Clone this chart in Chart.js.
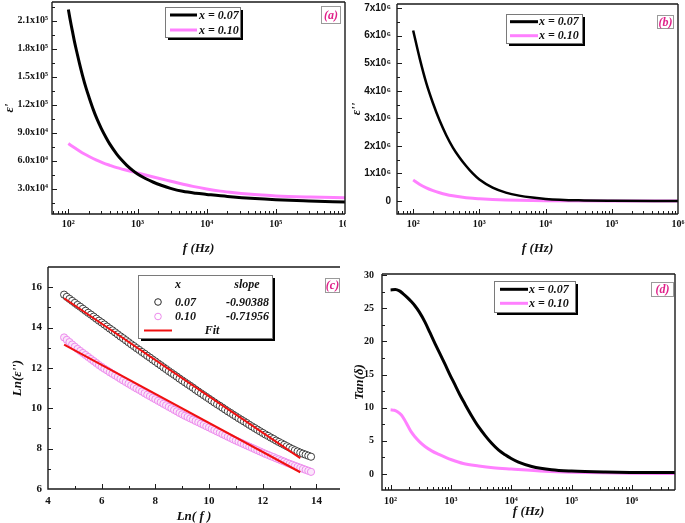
<!DOCTYPE html>
<html><head><meta charset="utf-8">
<script src="https://cdn.jsdelivr.net/npm/chart.js@4.4.0/dist/chart.umd.min.js"></script>
<style>
html,body{margin:0;padding:0;background:#fff;}
#wrap{position:relative;width:685px;height:523px;overflow:hidden;background:#fff;}
canvas{position:absolute;}
</style></head><body>
<div id="wrap">
<canvas id="ca" width="346" height="260" style="left:0;top:0"></canvas>
<canvas id="cb" width="340" height="260" style="left:345px;top:0"></canvas>
<canvas id="cc" width="345" height="263" style="left:0;top:260px"></canvas>
<canvas id="cd" width="340" height="263" style="left:345px;top:260px"></canvas>
</div>
<script>
// ---------- data ----------
const seriesLabels = ['x = 0.07', 'x = 0.10'];
const panelTags = ['(a)', '(b)', '(c)', '(d)'];

// (a) epsilon' vs f
const freqA07 = [100, 105, 110, 115, 123, 132, 145, 160, 180, 200, 230, 260, 300, 350, 400, 500, 600, 700, 850, 1000, 1300, 1700, 2200, 3000, 4500, 7000, 10000, 20000, 50000, 100000, 300000, 1000000];
const epsRealA07 = [222000, 213000, 205000, 198000, 187000, 177000, 164000, 151500, 138000, 127500, 114500, 104500, 94500, 85000, 77500, 67200, 60200, 55100, 49700, 45800, 41000, 37000, 33800, 30500, 27300, 25200, 24000, 21800, 19500, 18300, 17000, 15800];
const freqA10 = [100, 126, 158, 200, 251, 316, 398, 501, 631, 794, 1000, 1585, 2512, 3981, 6310, 10000, 15849, 25119, 39811, 63096, 100000, 316228, 1000000];
const epsRealA10 = [78400, 73300, 68600, 64600, 61000, 57800, 55100, 52600, 50600, 48700, 46900, 43100, 39500, 35900, 32600, 29800, 27500, 25800, 24400, 23300, 22400, 21200, 20400];

// (b) epsilon'' vs f
const freqB07 = [100, 126, 158, 200, 251, 316, 398, 501, 631, 794, 1000, 1585, 2512, 3981, 6310, 10000, 31623, 100000, 1000000];
const epsImagB07 = [6190000, 5160000, 4280000, 3540000, 2920000, 2390000, 1940000, 1580000, 1270000, 1000000, 780000, 487000, 307000, 196000, 125000, 78000, 25000, 8000, 1000];
const freqB10 = [100, 126, 158, 200, 251, 316, 398, 501, 631, 794, 1000, 1585, 2512, 3981, 10000, 100000, 1000000];
const epsImagB10 = [760000, 600000, 475000, 375000, 300000, 238000, 190000, 152000, 122000, 100000, 85000, 60000, 42000, 30000, 14000, 2500, 800];

// (c) Ln(epsilon'') vs Ln(f)
const lnF = [4.6,4.7,4.8,4.9,5.0,5.1,5.2,5.3,5.4,5.5,5.6,5.7,5.8,5.9,6.0,6.1,6.2,6.3,6.4,6.5,6.6,6.7,6.8,6.9,7.0,7.1,7.2,7.3,7.4,7.5,7.6,7.7,7.8,7.9,8.0,8.1,8.2,8.3,8.4,8.5,8.6,8.7,8.8,8.9,9.0,9.1,9.2,9.3,9.4,9.5,9.6,9.7,9.8,9.9,10.0,10.1,10.2,10.3,10.4,10.5,10.6,10.7,10.8,10.9,11.0,11.1,11.2,11.3,11.4,11.5,11.6,11.7,11.8,11.9,12.0,12.1,12.2,12.3,12.4,12.5,12.6,12.7,12.8,12.9,13.0,13.1,13.2,13.3,13.4,13.5,13.6,13.7,13.8];
const lnEps07 = [15.63,15.52,15.42,15.32,15.22,15.12,15.03,14.93,14.83,14.73,14.64,14.54,14.44,14.34,14.25,14.15,14.05,13.95,13.86,13.76,13.66,13.56,13.47,13.37,13.27,13.17,13.08,12.98,12.89,12.79,12.70,12.60,12.51,12.41,12.32,12.22,12.13,12.03,11.94,11.84,11.75,11.66,11.57,11.47,11.38,11.29,11.20,11.11,11.02,10.92,10.83,10.74,10.65,10.56,10.47,10.38,10.29,10.20,10.12,10.03,9.94,9.85,9.77,9.68,9.60,9.51,9.43,9.35,9.27,9.18,9.10,9.02,8.94,8.86,8.78,8.70,8.63,8.55,8.48,8.40,8.33,8.26,8.19,8.12,8.05,7.98,7.92,7.86,7.80,7.75,7.70,7.65,7.60];
const lnEps10 = [13.51,13.39,13.28,13.16,13.05,12.94,12.84,12.74,12.64,12.54,12.44,12.34,12.24,12.14,12.05,11.96,11.88,11.79,11.71,11.63,11.55,11.46,11.38,11.30,11.22,11.14,11.06,10.98,10.91,10.83,10.75,10.67,10.60,10.52,10.45,10.37,10.30,10.22,10.15,10.07,10.00,9.92,9.85,9.77,9.70,9.63,9.57,9.50,9.44,9.37,9.31,9.24,9.18,9.11,9.05,8.98,8.92,8.85,8.79,8.72,8.66,8.59,8.53,8.46,8.40,8.34,8.28,8.22,8.16,8.10,8.04,7.98,7.92,7.86,7.80,7.74,7.69,7.63,7.58,7.52,7.47,7.41,7.36,7.30,7.25,7.20,7.15,7.10,7.05,7.00,6.95,6.90,6.85];
const fitLnF = [4.6, 13.4];
const fitLnEps07 = [15.45, 7.53];
const fitLnEps10 = [13.15, 6.83];
const compLabels = ['0.07', '0.10'];
const slopeLabels = ['-0.90388', '-0.71956'];

// (d) tan(delta) vs f
const freqD07 = [100, 120, 140, 160, 190, 220, 251, 300, 372, 450, 550, 660, 794, 960, 1175, 1400, 1698, 2200, 2884, 3700, 4786, 6200, 7943, 10000, 13183, 21878, 46774, 100000, 363078, 1000000, 5200000];
const tanD07 = [27.75, 27.8, 27.6, 27.2, 26.6, 26.0, 25.4, 24.4, 22.9, 21.3, 19.6, 18.1, 16.6, 15.0, 13.4, 12.0, 10.6, 8.8, 7.1, 5.8, 4.6, 3.6, 2.9, 2.35, 1.8, 1.15, 0.65, 0.45, 0.3, 0.25, 0.22];
const freqD10 = [100, 115, 130, 151, 170, 195, 220, 251, 300, 372, 480, 617, 800, 1023, 1600, 2884, 5000, 10000, 36308, 100000, 1000000, 5200000];
const tanD10 = [9.68, 9.62, 9.4, 8.9, 8.2, 7.2, 6.35, 5.67, 4.9, 4.16, 3.5, 3.0, 2.55, 2.16, 1.6, 1.22, 0.95, 0.75, 0.42, 0.28, 0.12, 0.1];

// tick values and labels
const xTicksLog = [100, 1000, 10000, 100000, 1000000];
const xTickLabelsLog = ['10²', '10³', '10⁴', '10⁵', '10⁶'];
const yTicksA = [30000, 60000, 90000, 120000, 150000, 180000, 210000];
const yTickLabelsA = ['3.0x10⁴', '6.0x10⁴', '9.0x10⁴', '1.2x10⁵', '1.5x10⁵', '1.8x10⁵', '2.1x10⁵'];
const yTicksB = [0, 1000000, 2000000, 3000000, 4000000, 5000000, 6000000, 7000000];
const yTickLabelsB = ['0', '1x10⁶', '2x10⁶', '3x10⁶', '4x10⁶', '5x10⁶', '6x10⁶', '7x10⁶'];
const xTicksC = [4, 6, 8, 10, 12, 14];
const xTickLabelsC = ['4', '6', '8', '10', '12', '14'];
const yTicksC = [6, 8, 10, 12, 14, 16];
const yTickLabelsC = ['6', '8', '10', '12', '14', '16'];
const yTicksD = [0, 5, 10, 15, 20, 25, 30];
const yTickLabelsD = ['0', '5', '10', '15', '20', '25', '30'];

// ---------- styling / helpers ----------
const SERIF = "'Liberation Serif', 'Times New Roman', serif";
const SANS = "'Liberation Sans', Arial, 'DejaVu Sans', sans-serif";
const PINK = '#ff80ff';
const TAGC = '#e0218a';
const INK = '#111';

function pts(xs, ys) { return xs.map((x, i) => ({ x: x, y: ys[i] })); }

function axis(o) {
  return {
    type: o.type, min: o.min, max: o.max, bounds: 'data',
    grid: { display: false, drawTicks: false }, border: { display: false },
    ticks: {
      autoSkip: false, maxRotation: 0, minRotation: 0, padding: o.pad, color: INK,
      font: { family: o.family || SERIF, weight: 'bold', size: o.size || 10 },
      callback: function (v) {
        const i = o.ticks.findIndex(t => Math.abs(t - v) <= Math.abs(t) * 1e-9 + 1e-9);
        return i >= 0 ? o.labels[i] : '';
      }
    },
    title: { display: true, text: o.title, color: INK,
      font: { family: SERIF, style: 'italic', weight: 'bold', size: 13, lineHeight: o.lh || 1.2 },
      padding: o.tpad },
    afterBuildTicks: function (s) { s.ticks = o.ticks.map(v => ({ value: v })); },
    afterFit: function (s) {
      if (s.isHorizontal()) s.height = o.fit; else s.width = o.fit;
      s.paddingLeft = 0; s.paddingRight = 0; s.paddingTop = 0; s.paddingBottom = 0;
    }
  };
}

function baseOptions(pad, x, y) {
  return {
    responsive: false, animation: false, devicePixelRatio: 1,
    layout: { padding: pad },
    plugins: { legend: { display: false }, tooltip: { enabled: false } },
    elements: { point: { radius: 0 }, line: { fill: false, cubicInterpolationMode: 'monotone', borderJoinStyle: 'round', borderCapStyle: 'butt' } },
    scales: { x: x, y: y }
  };
}

// per-canvas decoration config
const deco = {
  ca: { legend: { box: [165, 7, 75, 30], rows: [15, 30], lx0: 170, lx1: 197, tx: 199 }, tag: [321, 6, 19, 17, 0] },
  cb: { legend: { box: [161, 14, 76, 29], rows: [21.7, 35.7], lx0: 165, lx1: 193, tx: 194 }, tag: [312, 15, 16, 13, 1] },
  cc: { noRight: true, table: { box: [138, 15, 134, 63] }, tag: [325, 18, 14, 14, 2] },
  cd: { legend: { box: [149, 21, 81, 31], rows: [29.3, 43.3], lx0: 155, lx1: 183, tx: 184 }, tag: [306, 22, 22, 14, 3] }
};

function minorValues(s, major) {
  const out = [];
  if (s.type === 'logarithmic') {
    for (let e = Math.floor(Math.log10(s.min)); e <= Math.ceil(Math.log10(s.max)); e++) {
      for (let m = 2; m <= 9; m++) { const v = m * Math.pow(10, e); if (v >= s.min && v <= s.max) out.push(v); }
    }
  } else {
    const step = major[1] - major[0];
    for (let v = major[0] - step / 2; v <= s.max; v += step) { if (v >= s.min) out.push(v); }
  }
  return out;
}

const frameTicks = {
  id: 'frameTicks',
  afterDatasetsDraw(chart) {
    const d = deco[chart.canvas.id];
    const ctx = chart.ctx, a = chart.chartArea, xs = chart.scales.x, ys = chart.scales.y;
    ctx.save();
    ctx.strokeStyle = '#1a1a1a'; ctx.lineWidth = 1.4;
    ctx.beginPath();
    ctx.moveTo(a.left, a.top); ctx.lineTo(a.left, a.bottom); ctx.lineTo(a.right, a.bottom);
    ctx.moveTo(a.left, a.top); ctx.lineTo(a.right, a.top);
    if (!d.noRight) { ctx.moveTo(a.right, a.top); ctx.lineTo(a.right, a.bottom); }
    ctx.stroke();
    ctx.lineWidth = 1;
    ctx.beginPath();
    const xMaj = xs.ticks.map(t => t.value), yMaj = ys.ticks.map(t => t.value);
    const xMin = minorValues(xs, xMaj), yMin = minorValues(ys, yMaj);
    const xt = (v, L) => { const p = Math.round(xs.getPixelForValue(v)) + 0.5; if (p > a.left + 1 && p < a.right - 1) { ctx.moveTo(p, a.bottom); ctx.lineTo(p, a.bottom - L); } };
    const yt = (v, L) => { const p = Math.round(ys.getPixelForValue(v)) + 0.5; if (p > a.top + 1 && p < a.bottom - 1) { ctx.moveTo(a.left, p); ctx.lineTo(a.left + L, p); } };
    xMaj.forEach(v => xt(v, 5)); xMin.forEach(v => xt(v, 3));
    yMaj.forEach(v => yt(v, 5)); yMin.forEach(v => yt(v, 3));
    ctx.stroke();
    ctx.restore();
  }
};

function drawBox(ctx, b) {
  ctx.fillStyle = '#000'; ctx.fillRect(b[0] + 3, b[1] + 3, b[2], b[3]);
  ctx.fillStyle = '#fff'; ctx.fillRect(b[0], b[1], b[2], b[3]);
  ctx.strokeStyle = '#7a7a7a'; ctx.lineWidth = 1; ctx.strokeRect(b[0] + 0.5, b[1] + 0.5, b[2], b[3]);
}

const legendBox = {
  id: 'legendBox',
  afterDraw(chart) {
    const d = deco[chart.canvas.id];
    const ctx = chart.ctx;
    ctx.save();
    ctx.font = 'italic bold 12px ' + SERIF;
    ctx.textBaseline = 'middle';
    if (d.legend) {
      const L = d.legend;
      drawBox(ctx, L.box);
      L.rows.forEach((y, i) => {
        const ds = chart.data.datasets[i];
        ctx.strokeStyle = ds.borderColor; ctx.lineWidth = 3;
        ctx.beginPath(); ctx.moveTo(L.lx0, y); ctx.lineTo(L.lx1, y); ctx.stroke();
        ctx.fillStyle = INK; ctx.textAlign = 'left'; ctx.fillText(ds.label, L.tx, y + 0.5);
      });
    }
    if (d.table) {
      const b = d.table.box;
      drawBox(ctx, b);
      ctx.fillStyle = INK;
      ctx.textAlign = 'left'; ctx.fillText('x', 175, 25);
      ctx.textAlign = 'center'; ctx.fillText('slope', 247, 25);
      const rowsY = [42, 56.5];
      rowsY.forEach((y, i) => {
        const ds = chart.data.datasets[2 + i];
        ctx.beginPath(); ctx.arc(158, y, 3.3, 0, Math.PI * 2);
        ctx.fillStyle = '#fff'; ctx.fill();
        ctx.strokeStyle = ds.borderColor; ctx.lineWidth = 1; ctx.stroke();
        ctx.fillStyle = INK; ctx.textAlign = 'left'; ctx.fillText(compLabels[i], 175, y + 0.5);
        ctx.textAlign = 'center'; ctx.fillText(slopeLabels[i], 247.5, y + 0.5);
      });
      const fit = chart.data.datasets[0];
      ctx.strokeStyle = fit.borderColor; ctx.lineWidth = 2;
      ctx.beginPath(); ctx.moveTo(144, 70.5); ctx.lineTo(172, 70.5); ctx.stroke();
      ctx.fillStyle = INK; ctx.textAlign = 'center'; ctx.fillText('Fit', 212, 70.5);
    }
    if (d.tag) {
      const t = d.tag;
      ctx.strokeStyle = '#9a9a9a'; ctx.lineWidth = 1;
      ctx.strokeRect(t[0] + 0.5, t[1] + 0.5, t[2], t[3]);
      ctx.fillStyle = TAGC; ctx.textAlign = 'center';
      ctx.fillText(panelTags[t[4]], t[0] + t[2] / 2 + 0.5, t[1] + t[3] / 2 + 1);
    }
    ctx.restore();
  }
};

// ---------- charts ----------
new Chart(document.getElementById('ca'), {
  type: 'line',
  data: { datasets: [
    { label: seriesLabels[0], data: pts(freqA07, epsRealA07), borderColor: '#000', borderWidth: 3 },
    { label: seriesLabels[1], data: pts(freqA10, epsRealA10), borderColor: PINK, borderWidth: 3 }
  ] },
  options: baseOptions({ top: 2, right: 1, left: 0, bottom: 0 },
    axis({ type: 'logarithmic', min: 58, max: 1000000, ticks: xTicksLog, labels: xTickLabelsLog, pad: 4, title: 'f (Hz)', tpad: { top: 0, bottom: 4 }, fit: 46 }),
    axis({ type: 'linear', min: 3000, max: 230000, ticks: yTicksA, labels: yTickLabelsA, pad: 4, title: "ε'", tpad: { top: 2, bottom: 0 }, fit: 52 })),
  plugins: [frameTicks, legendBox]
});

new Chart(document.getElementById('cb'), {
  type: 'line',
  data: { datasets: [
    { label: seriesLabels[0], data: pts(freqB07, epsImagB07), borderColor: '#000', borderWidth: 2.5 },
    { label: seriesLabels[1], data: pts(freqB10, epsImagB10), borderColor: PINK, borderWidth: 3 }
  ] },
  options: baseOptions({ top: 4, right: 7, left: 0, bottom: 0 },
    axis({ type: 'logarithmic', min: 57, max: 1000000, ticks: xTicksLog, labels: xTickLabelsLog, pad: 4, title: 'f (Hz)', tpad: { top: 0, bottom: 4 }, fit: 46 }),
    axis({ type: 'linear', min: -470000, max: 7150000, ticks: yTicksB, labels: yTickLabelsB, pad: 6, family: SANS, title: "ε''", tpad: { top: 4, bottom: 0 }, fit: 52 })),
  plugins: [frameTicks, legendBox]
});

new Chart(document.getElementById('cc'), {
  type: 'line',
  data: { datasets: [
    { label: 'Fit', data: pts(fitLnF, fitLnEps07), borderColor: '#f01010', borderWidth: 2, cubicInterpolationMode: 'default', tension: 0, order: 0 },
    { label: 'Fit', data: pts(fitLnF, fitLnEps10), borderColor: '#f01010', borderWidth: 2, cubicInterpolationMode: 'default', tension: 0, order: 0 },
    { label: compLabels[0], data: pts(lnF, lnEps07), showLine: false, pointRadius: 3.6, pointBorderWidth: 0.9, borderColor: '#2a2a2a', pointBorderColor: '#2a2a2a', pointBackgroundColor: '#ffffff', order: 1 },
    { label: compLabels[1], data: pts(lnF, lnEps10), showLine: false, pointRadius: 3.6, pointBorderWidth: 1, borderColor: '#ec8aec', pointBorderColor: '#ec8aec', pointBackgroundColor: '#fbe6fb', order: 2 }
  ] },
  options: baseOptions({ top: 7, right: 0, left: 0, bottom: 0 },
    axis({ type: 'linear', min: 4, max: 14.88, ticks: xTicksC, labels: xTickLabelsC, pad: 6, size: 11, title: 'Ln( f )', lh: 1, tpad: { top: 0, bottom: 0 }, fit: 34 }),
    axis({ type: 'linear', min: 6, max: 17, ticks: yTicksC, labels: yTickLabelsC, pad: 6, size: 11, title: "Ln(ε'')", tpad: { top: 10, bottom: 0 }, fit: 48 })),
  plugins: [frameTicks, legendBox]
});

new Chart(document.getElementById('cd'), {
  type: 'line',
  data: { datasets: [
    { label: seriesLabels[0], data: pts(freqD07, tanD07), borderColor: '#000', borderWidth: 3 },
    { label: seriesLabels[1], data: pts(freqD10, tanD10), borderColor: PINK, borderWidth: 3 }
  ] },
  options: baseOptions({ top: 14, right: 10, left: 0, bottom: 0 },
    axis({ type: 'logarithmic', min: 72, max: 5200000, ticks: xTicksLog, labels: xTickLabelsLog, pad: 5, title: 'f (Hz)', tpad: { top: 0, bottom: 3.5 }, fit: 33 }),
    axis({ type: 'linear', min: -2.4, max: 30.15, ticks: yTicksD, labels: yTickLabelsD, pad: 8, title: 'Tan(δ)', tpad: { top: 7, bottom: 0 }, fit: 37 })),
  plugins: [frameTicks, legendBox]
});
</script>
</body></html>
